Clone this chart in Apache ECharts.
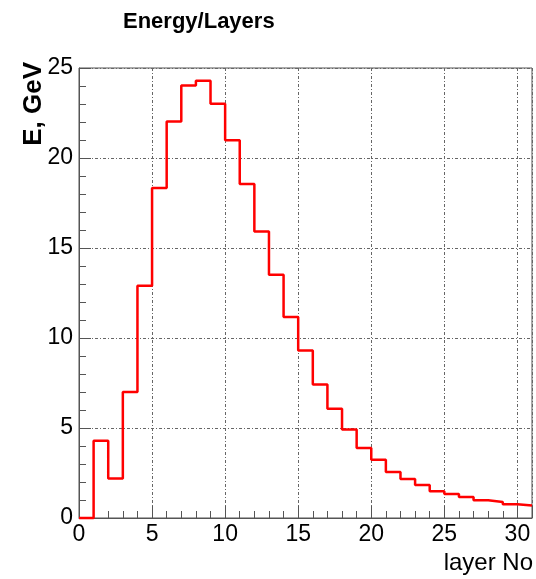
<!DOCTYPE html>
<html>
<head>
<meta charset="utf-8">
<script src="https://cdn.jsdelivr.net/npm/echarts@6/dist/echarts.min.js"></script>
<style>
  html, body { margin: 0; padding: 0; background: #fff; }
  #chart { width: 536px; height: 579px; }
</style>
</head>
<body>
<div id="chart"></div>
<script>
// Energy deposited per calorimeter layer (GeV), one bin per layer [i, i+1)
const layers = [0, 1, 2, 3, 4, 5, 6, 7, 8, 9, 10, 11, 12, 13, 14, 15, 16, 17, 18, 19, 20,
                21, 22, 23, 24, 25, 26, 27, 28, 29, 30];
const energy = [0.0, 4.29, 2.2, 7.0, 12.9, 18.33, 22.03, 24.03, 24.29, 23.02, 20.98,
                18.55, 15.92, 13.52, 11.17, 9.31, 7.41, 6.07, 4.91, 3.89, 3.24,
                2.55, 2.17, 1.83, 1.48, 1.33, 1.17, 0.98, 0.89, 0.76, 0.70];
const xTicks = [0, 5, 10, 15, 20, 25, 30];
const yTicks = [0, 5, 10, 15, 20, 25];

// Histogram outline: each bin starts at its low edge; the last bin is closed at its high edge
const steps = layers.map((x, i) => [x, energy[i]]);
steps.push([layers[layers.length - 1] + 1, energy[energy.length - 1]]);

const font = 'Liberation Sans, Arial, Helvetica, sans-serif';
const gridLine = { show: true, lineStyle: { color: '#666', width: 1, type: [3, 2, 1, 2] } };

const chart = echarts.init(document.getElementById('chart'), null, { renderer: 'canvas' });
chart.setOption({
  animation: false,
  backgroundColor: '#fff',
  title: {
    text: 'Energy/Layers',
    left: 118,
    top: 6,
    textStyle: { fontFamily: font, fontSize: 22, fontWeight: 'bold', color: '#000' }
  },
  grid: {
    left: 79, top: 68, width: 458, height: 450,
    show: true, borderColor: '#555', borderWidth: 1, backgroundColor: 'transparent'
  },
  xAxis: {
    type: 'value',
    min: 0, max: 31, interval: 5,
    name: 'layer No',
    nameLocation: 'end',
    nameGap: 1,
    nameTextStyle: {
      fontFamily: font, fontSize: 24, color: '#000',
      align: 'right', verticalAlign: 'top', padding: [33, 0, 0, 0]
    },
    axisLine: { show: true, onZero: false, lineStyle: { color: '#555', width: 1 } },
    axisTick: { show: true, inside: true, length: 12, lineStyle: { color: '#555' } },
    minorTick: { show: true, splitNumber: 5, length: 7, lineStyle: { color: '#555' } },
    axisLabel: {
      fontFamily: font, fontSize: 23, color: '#000', margin: 5,
      showMinLabel: true, showMaxLabel: true,
      formatter: v => (xTicks.includes(v) ? String(v) : '')
    },
    splitLine: gridLine
  },
  yAxis: {
    type: 'value',
    min: 0, max: 25, interval: 5,
    axisLine: { show: true, onZero: false, lineStyle: { color: '#555', width: 1 } },
    axisTick: { show: true, inside: true, length: 12, lineStyle: { color: '#555' } },
    minorTick: { show: true, splitNumber: 5, length: 7, lineStyle: { color: '#555' } },
    axisLabel: {
      fontFamily: font, fontSize: 23, color: '#000', margin: 6,
      formatter: v => (yTicks.includes(v) ? String(v) : '')
    },
    splitLine: gridLine
  },
  graphic: [{
    type: 'text',
    x: 34, y: 62,
    rotation: Math.PI / 2,
    style: {
      text: 'E, GeV',
      fontFamily: font, fontSize: 26, fontWeight: 'bold', fill: '#000',
      align: 'right', verticalAlign: 'middle'
    }
  }],
  series: [{
    type: 'line',
    step: 'end',
    data: steps,
    showSymbol: false,
    clip: false,
    lineStyle: { color: '#ff0000', width: 2.5 },
    itemStyle: { color: '#ff0000' }
  }]
});
</script>
</body>
</html>
